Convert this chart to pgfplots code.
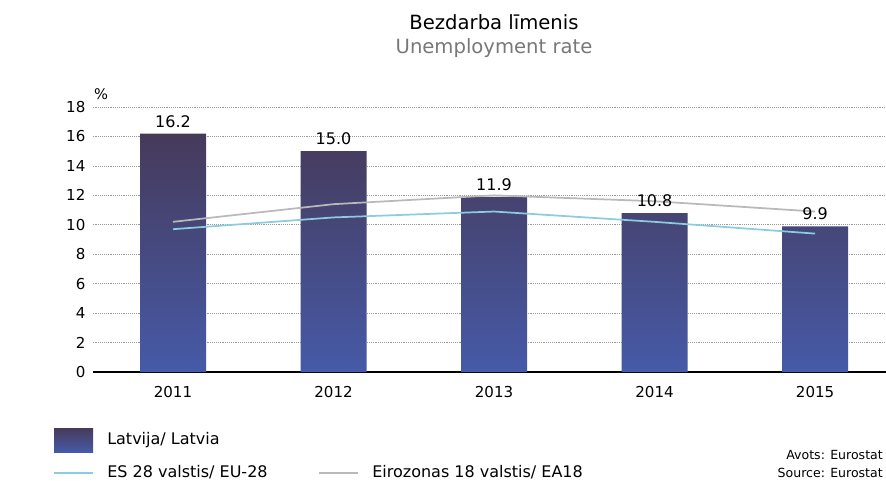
\documentclass[border=0pt]{standalone}
\usepackage{pgfplots}
\pgfplotsset{compat=1.18}
\usepackage{fontspec}
\setmainfont{DejaVu Sans}
\definecolor{bartop}{RGB}{70,58,90}
\definecolor{barbot}{RGB}{70,90,168}
\definecolor{eucol}{RGB}{140,204,224}
\definecolor{eacol}{RGB}{185,185,185}
\definecolor{subgray}{RGB}{120,120,120}
\begin{document}
\begin{tikzpicture}[x=0.75pt,y=0.75pt]
\path[fill=white] (0,0) rectangle (886,480);
\begin{scope}
\clip (0,0) rectangle (886,480);
\begin{axis}[
  at={(129.75pt,81pt)}, anchor=origin,
  scale only axis, width=594.75pt, height=198.75pt,
  xmin=-0.5, xmax=4.44, ymin=0, ymax=18,
  ytick={0,2,...,18},
  xtick={0,1,2,3,4}, xticklabels={2011,2012,2013,2014,2015},
  major tick length=0pt,
  ymajorgrids, grid style={densely dotted, black!40, line width=0.5pt},
  axis x line*=bottom, axis y line*=left,
  x axis line style={-, black, line width=0.8pt},
  y axis line style={draw=none},
  /pgf/number format/assume math mode=true,
  ticklabel style={font=\fontsize{11.3}{13}\selectfont},
  yticklabel style={xshift=-2pt},
  xticklabel style={yshift=-7pt},
  clip=false,
]
\addplot[ybar, bar width=49.5pt, bar shift=0pt, draw=none,
  top color=bartop, bottom color=barbot] coordinates {(0,16.2)(1,15.0)(2,11.9)(3,10.8)(4,9.9)};
\addplot[sharp plot, color=eacol, line width=1.3pt] coordinates {(0,10.2)(1,11.4)(2,12.0)(3,11.6)(4,10.9)};
\addplot[sharp plot, color=eucol, line width=1.3pt] coordinates {(0,9.7)(1,10.5)(2,10.9)(3,10.2)(4,9.4)};
\addplot[ybar, bar width=49.5pt, bar shift=0pt, draw=none, fill=none,
  nodes near coords={\pgfmathprintnumber[fixed,fixed zerofill,precision=1]{\pgfplotspointmeta}},
  every node near coord/.append style={font=\fontsize{12}{14}\selectfont, black, anchor=south, yshift=1pt}]
  coordinates {(0,16.2)(1,15.0)(2,11.9)(3,10.8)(4,9.9)};
\end{axis}
\node at (101,386) {\fontsize{11}{13}\selectfont \%};
\node[black] at (494,458) {\fontsize{14.7}{17}\selectfont Bezdarba līmenis};
\node[subgray] at (494,432) {\fontsize{14.7}{17}\selectfont Unemployment rate};
% legend
\shade[top color=bartop, bottom color=barbot] (54,28) rectangle (93,52);
\node[anchor=west, inner sep=0pt] at (107,40) {\fontsize{12}{14}\selectfont Latvija/ Latvia};
\draw[eucol, line width=1.5pt] (54,7) -- (93,7);
\node[anchor=west, inner sep=0pt] at (107,8) {\fontsize{12}{14}\selectfont ES 28 valstis/ EU-28};
\draw[eacol, line width=1.5pt] (319,7) -- (358,7);
\node[anchor=west, inner sep=0pt] at (372,8) {\fontsize{12}{14}\selectfont Eirozonas 18 valstis/ EA18};
\node[anchor=east, inner sep=0pt] at (883,25) {\fontsize{9.4}{11}\selectfont Avots: Eurostat};
\node[anchor=east, inner sep=0pt] at (883,7) {\fontsize{9.4}{11}\selectfont Source: Eurostat};
\end{scope}
\pgfresetboundingbox
\path[use as bounding box] (0,0) rectangle (886,480);
\end{tikzpicture}
\end{document}
